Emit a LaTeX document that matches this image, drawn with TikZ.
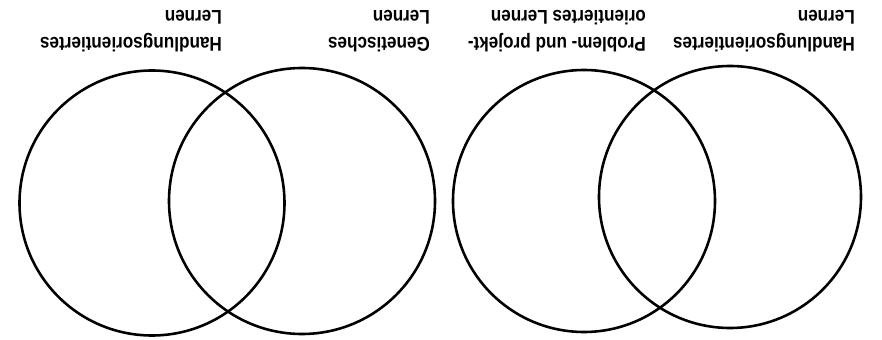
\documentclass[tikz,border=0pt]{standalone}
\usepackage{fontspec}
\setmainfont{Liberation Sans}[FakeStretch=0.86]
\begin{document}
\begin{tikzpicture}[x=0.03cm,y=-0.03cm,
  ring/.style={draw=black,line width=2.2pt},
  lbl/.style={font=\bfseries\fontsize{17}{23}\selectfont,align=left,rotate=180,inner sep=0pt}]
\useasboundingbox (0,0) rectangle (882,340);
\node[ring,circle,minimum size=265*0.03cm,inner sep=0pt] (c1) at (152,203) {};
\node[ring,circle,minimum size=266*0.03cm,inner sep=0pt] (c2) at (302,201) {};
\node[ring,circle,minimum size=262*0.03cm,inner sep=0pt] (c3) at (584,201) {};
\node[ring,circle,minimum size=262*0.03cm,inner sep=0pt] (c4) at (730,197) {};
\node[lbl] (t1) at (131,31) {Handlungsorientiertes\\Lernen};
\node[lbl] (t2) at (379,31) {Genetisches\\Lernen};
\node[lbl] (t3) at (557,31) {Problem- und projekt-\\orientiertes Lernen};
\node[lbl] (t4) at (764,31) {Handlungsorientiertes\\Lernen};
\end{tikzpicture}
\end{document}
